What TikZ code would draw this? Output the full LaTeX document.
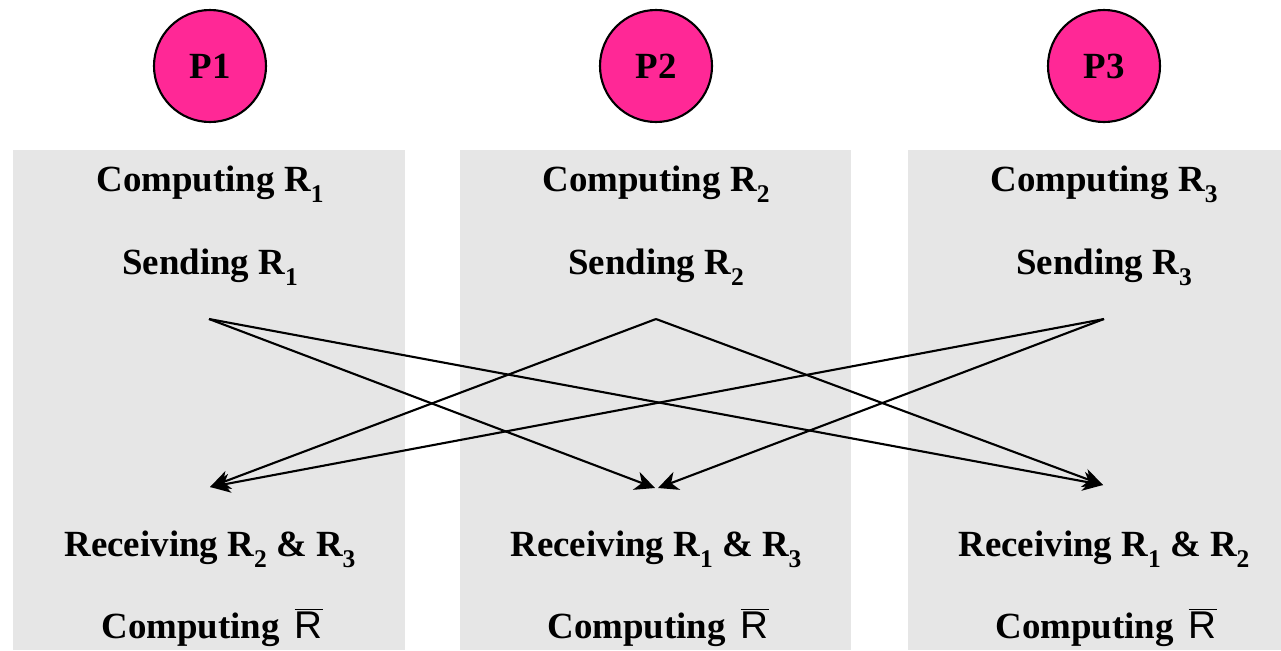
\documentclass[tikz,border=0pt]{standalone}
\usepackage{fontspec}
\setmainfont{Liberation Serif}
\newfontfamily\arialfam{Liberation Sans}
\usetikzlibrary{arrows.meta}
\definecolor{panelgray}{RGB}{230,230,230}
\definecolor{procpink}{RGB}{255,40,150}
\newcommand\subidx[1]{\raisebox{-0.3em}{\fontsize{14.5}{14.5}\selectfont #1}}
\newcommand\rbar{\hspace{0.15em}{\arialfam\mdseries\fontsize{22}{24}\selectfont$\overline{\hbox{R}}$}}
\begin{document}
\begin{tikzpicture}[x=0.02cm,y=-0.02cm,
  panel/.style={fill=panelgray,draw=none},
  proc/.style={circle,draw=black,line width=1.2pt,fill=procpink,minimum size=112*0.02cm,inner sep=0pt,
    font=\fontsize{21}{24}\selectfont\bfseries},
  lbl/.style={font=\fontsize{21}{24}\selectfont\bfseries,inner sep=0pt,anchor=base},
  msg/.style={line width=1.2pt,-{Stealth[length=0.4cm,width=0.38cm,inset=0.12cm]}}]
\useasboundingbox (0,0) rectangle (1281,650);
\fill[white] (0,0) rectangle (1281,650);

% process columns
\fill[panel] (13,150) rectangle (405,650);
\fill[panel] (460,150) rectangle (851,650);
\fill[panel] (908,150) rectangle (1281,650);

% process labels
\node[proc] (p1) at (210,66) {P1};
\node[proc] (p2) at (656,66) {P2};
\node[proc] (p3) at (1104,66) {P3};

% column texts
\foreach \i/\x in {1/210,2/656,3/1104}{
  \node[lbl] (comp\i) at (\x,191) {Computing R\subidx{\i}};
  \node[lbl] (send\i) at (\x,274) {Sending R\subidx{\i}};
}
\node[lbl] (recv1) at (210,556) {Receiving R\subidx{2} \& R\subidx{3}};
\node[lbl] (recv2) at (656,556) {Receiving R\subidx{1} \& R\subidx{3}};
\node[lbl] (recv3) at (1104,556) {Receiving R\subidx{1} \& R\subidx{2}};
\node[lbl] (avg1) at (212,638) {Computing \rbar};
\node[lbl] (avg2) at (658,638) {Computing \rbar};
\node[lbl] (avg3) at (1106,638) {Computing \rbar};

% message endpoints
\coordinate (s1) at (209,319);
\coordinate (s2) at (656,319);
\coordinate (s3) at (1104,319);
\coordinate (r1) at (210,487);
\coordinate (r2a) at (655,488);
\coordinate (r2b) at (658,488);
\coordinate (r3) at (1103,485);

% messages
\draw[msg] (s1) -- (r2a);
\draw[msg] (s1) -- (r3);
\draw[msg] (s2) -- (r1);
\draw[msg] (s2) -- (r3);
\draw[msg] (s3) -- (r1);
\draw[msg] (s3) -- (r2b);
\end{tikzpicture}
\end{document}
